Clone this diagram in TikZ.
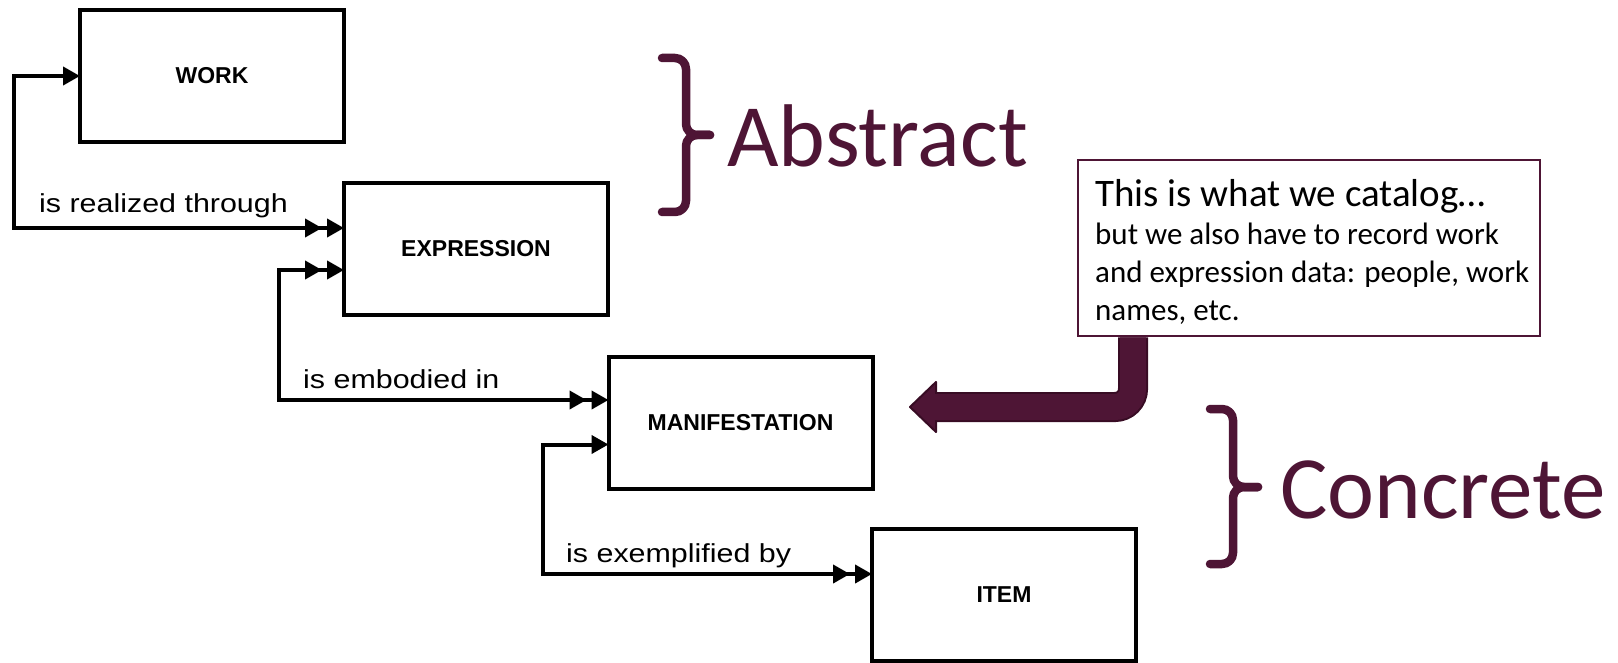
\documentclass[tikz,border=0pt]{standalone}
\usepackage{graphicx}
\usepackage{fontspec}
\setmainfont{Carlito}
\newfontfamily\arialfont{Liberation Sans}
\usetikzlibrary{arrows.meta}
\definecolor{plum}{RGB}{78,21,53}
\definecolor{plumdark}{RGB}{56,12,36}
\newcommand{\widen}[1]{\scalebox{1.17}[1]{#1}}
\tikzset{
  entity/.style={draw, line width=4pt, minimum width=264pt, minimum height=132pt,
    inner sep=0pt, outer sep=0pt, font=\arialfont\bfseries\fontsize{23}{26}\selectfont},
  relation/.style={line width=4pt},
  one/.tip={Triangle[length=17pt,width=18pt]},
  many/.tip={Triangle[length=17pt,width=18pt,sep=5pt] Triangle[length=17pt,width=18pt]},
  rellabel/.style={anchor=base west, inner sep=0pt, font=\arialfont\fontsize{26}{30}\selectfont},
  bigword/.style={anchor=base west, inner sep=0pt, text=plum, font=\fontsize{89}{100}\selectfont},
  bracket/.style={draw=plum, line width=8.5pt, line cap=round, line join=round,
    rounded corners=11pt},
  note/.style={draw=plum, fill=white, line width=2.7pt, minimum width=462pt,
    minimum height=176pt, inner sep=0pt},
  notetext/.style={anchor=north west, inner sep=0pt, align=left,
    font=\fontsize{31}{38}\selectfont},
}
\begin{document}
\begin{tikzpicture}[x=1pt, y=-1pt]
\useasboundingbox (0,0) rectangle (1618,663);

% entities
\node[entity] (work) at (212,76) {WORK};
\node[entity] (expression) at (476,249) {EXPRESSION};
\node[entity] (manifestation) at (740.5,422.5) {MANIFESTATION};
\node[entity] (item) at (1004,595) {ITEM};

% work -> expression
\coordinate (realized) at (14,228);
\draw[relation, one-many] (work.west) -| (realized) -- (realized -| expression.west);
\node[rellabel] (realizedlabel) at (39,213) {\widen{is realized through}};

% expression -> manifestation
\coordinate (embodied) at (279,400);
\draw[relation, many-many] ([yshift=-21pt]expression.west) -| (embodied)
  -- (embodied -| manifestation.west);
\node[rellabel] (embodiedlabel) at (303,388) {\widen{is embodied in}};

% manifestation -> item
\coordinate (exemplified) at (543,574);
\draw[relation, one-many] ([yshift=-22pt]manifestation.west) -| (exemplified)
  -- (exemplified -| item.west);
\node[rellabel] (exemplifiedlabel) at (566,562) {\widen{is exemplified by}};

% Abstract
\draw[bracket] (662,58) -- (686,58) -- (686,135) -- (710,135);
\draw[bracket] (662,212) -- (686,212) -- (686,135) -- (710,135);
\node[bigword] (abstract) at (727,167) {Abstract};

% Concrete
\draw[bracket] (1210,409) -- (1233,409) -- (1233,487) -- (1258,487);
\draw[bracket] (1210,564) -- (1233,564) -- (1233,487) -- (1258,487);
\node[bigword] (concrete) at (1280,518) {Concrete};

% callout
\node[note] (note) at (1309,248) {};
\node[notetext] (notetext) at (1095,179)
{{\fontsize{39}{38}\selectfont This is what we catalog…}\\
but we also have to record work\\
and expression data: people, work\\
names, etc.};

% pointer to manifestation
\coordinate (bend) at (1133,407);
\coordinate (pointer) at (910,407);
\draw[plumdark, line width=30pt, rounded corners=18pt] (bend |- note.south) -- (bend)
  -- ([xshift=26pt]pointer);
\filldraw[fill=plum, draw=plumdark, line width=2pt, line join=round]
  ([xshift=26pt,yshift=25pt]pointer) -- (pointer) -- ([xshift=26pt,yshift=-25pt]pointer) -- cycle;
\draw[plum, line width=26pt, rounded corners=18pt] (bend |- note.south) -- (bend)
  -- ([xshift=25pt]pointer);

\end{tikzpicture}
\end{document}
